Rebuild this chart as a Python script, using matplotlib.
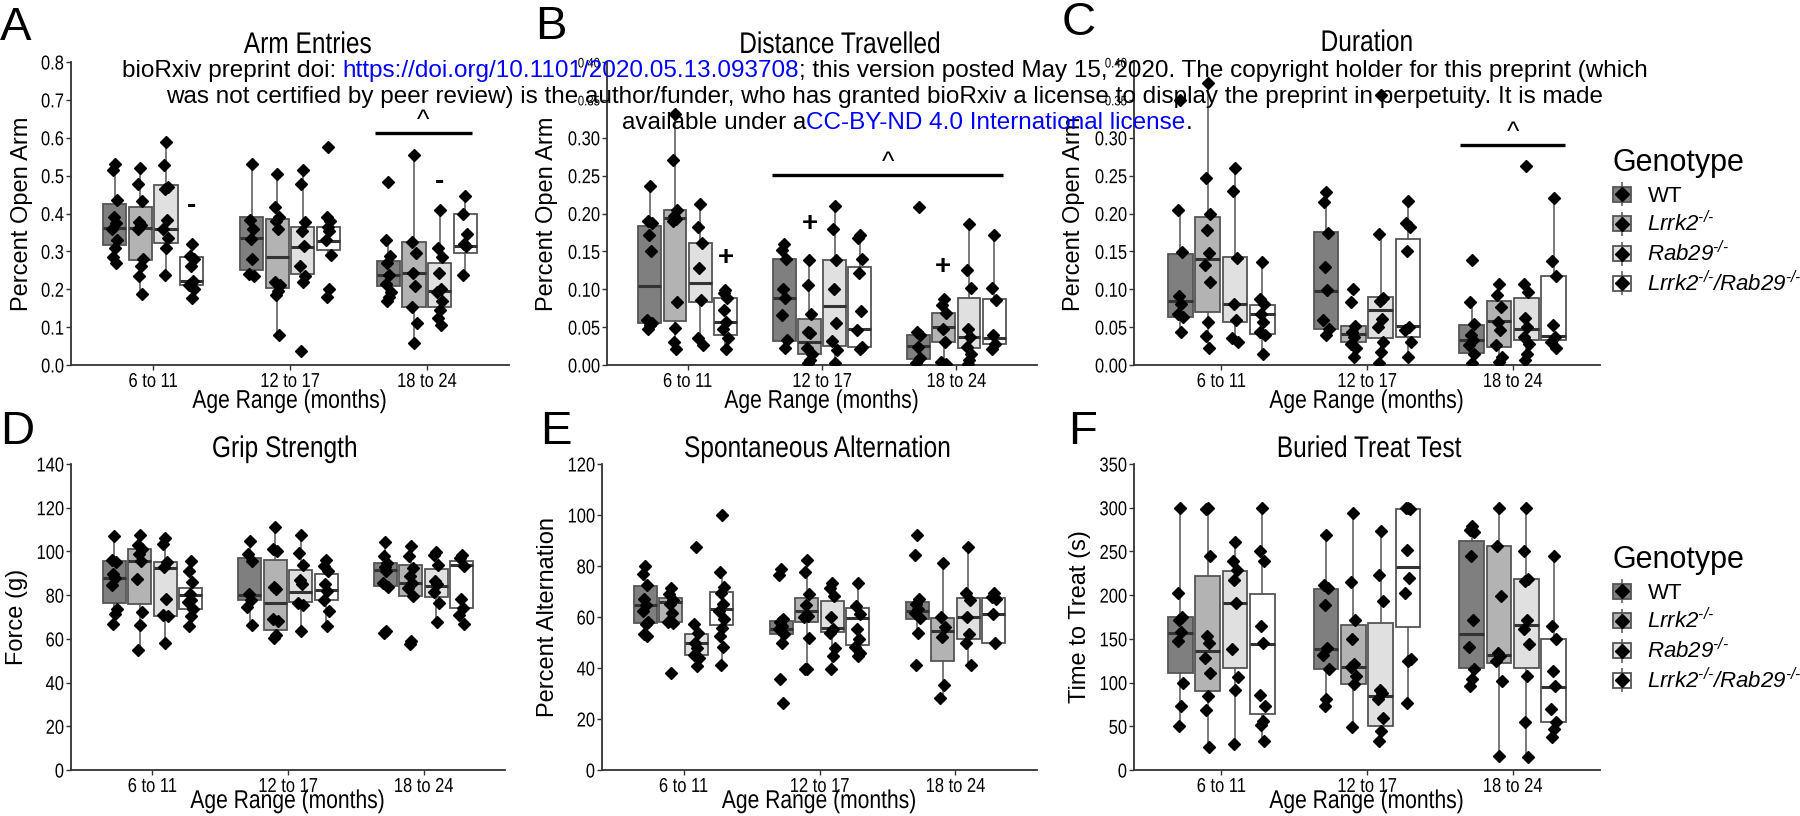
import numpy as np
import matplotlib
matplotlib.use("Agg")
import matplotlib.pyplot as plt
import matplotlib.patheffects as pe
from matplotlib.transforms import Affine2D
from matplotlib.patches import Patch
from matplotlib.lines import Line2D
from matplotlib.legend_handler import HandlerTuple

AGES = ["6 to 11", "12 to 17", "18 to 24"]
HY = "\u2010/\u2010"
GENOTYPES = ["WT", "$Lrrk2^{" + HY + "}$", "$Rab29^{" + HY + "}$",
             "$Lrrk2^{" + HY + "}/Rab29^{" + HY + "}$"]
FILLS = ["#7f7f7f", "#b3b3b3", "#e0e0e0", "#ffffff"]

# group order: for each age range -> WT, Lrrk2, Rab29, Lrrk2/Rab29
# ---- A: arm entries
arm_q1 = [0.316, 0.277, 0.322, 0.212, 0.251, 0.204, 0.239, 0.303, 0.208, 0.153, 0.153, 0.295]
arm_med = [0.363, 0.362, 0.360, 0.222, 0.336, 0.286, 0.312, 0.327, 0.237, 0.243, 0.195, 0.313]
arm_q3 = [0.426, 0.417, 0.474, 0.285, 0.390, 0.386, 0.365, 0.365, 0.275, 0.325, 0.270, 0.400]
arm_lo = [0.275, 0.188, 0.237, 0.177, 0.236, 0.080, 0.218, 0.290, 0.170, 0.059, 0.105, 0.237]
arm_hi = [0.532, 0.520, 0.592, 0.320, 0.530, 0.505, 0.515, 0.390, 0.336, 0.554, 0.408, 0.445]
arm_pts = [
    [0.532, 0.515, 0.435, 0.39, 0.375, 0.36, 0.33, 0.31, 0.285, 0.27],
    [0.52, 0.478, 0.432, 0.377, 0.37, 0.358, 0.28, 0.262, 0.236, 0.188],
    [0.59, 0.528, 0.47, 0.465, 0.384, 0.358, 0.336, 0.31, 0.237],
    [0.32, 0.287, 0.28, 0.262, 0.222, 0.211, 0.2, 0.177],
    [0.53, 0.382, 0.36, 0.332, 0.28, 0.24, 0.234],
    [0.505, 0.417, 0.39, 0.38, 0.358, 0.218, 0.211, 0.196, 0.186, 0.08],
    [0.515, 0.478, 0.377, 0.353, 0.314, 0.262, 0.236, 0.218, 0.038],
    [0.575, 0.39, 0.38, 0.365, 0.355, 0.33, 0.29, 0.2, 0.18],
    [0.484, 0.33, 0.288, 0.27, 0.237, 0.214, 0.192, 0.179, 0.17],
    [0.554, 0.325, 0.297, 0.243, 0.208, 0.153, 0.112, 0.059],
    [0.408, 0.31, 0.284, 0.243, 0.2, 0.192, 0.17, 0.144, 0.124, 0.105],
    [0.445, 0.40, 0.345, 0.32, 0.314, 0.237],
]

# ---- B: distance travelled
dist_q1 = [0.055, 0.058, 0.083, 0.040, 0.032, 0.015, 0.025, 0.024, 0.008, 0.031, 0.023, 0.028]
dist_med = [0.104, 0.194, 0.108, 0.057, 0.089, 0.031, 0.078, 0.047, 0.025, 0.050, 0.037, 0.035]
dist_q3 = [0.184, 0.204, 0.161, 0.089, 0.140, 0.061, 0.138, 0.130, 0.039, 0.068, 0.088, 0.087]
dist_lo = [0.047, 0.021, 0.027, 0.021, 0.022, 0.007, 0.001, 0.021, 0.001, 0.001, 0.001, 0.021]
dist_hi = [0.236, 0.331, 0.212, 0.099, 0.160, 0.139, 0.210, 0.171, 0.044, 0.087, 0.186, 0.171]
dist_pts = [
    [0.236, 0.19, 0.188, 0.171, 0.151, 0.06, 0.056, 0.053, 0.047],
    [0.331, 0.27, 0.204, 0.197, 0.193, 0.19, 0.083, 0.049, 0.031, 0.021],
    [0.212, 0.182, 0.161, 0.128, 0.086, 0.035, 0.027],
    [0.099, 0.095, 0.088, 0.072, 0.057, 0.047, 0.035, 0.021],
    [0.16, 0.152, 0.14, 0.1, 0.088, 0.066, 0.033, 0.022],
    [0.139, 0.105, 0.067, 0.044, 0.042, 0.022, 0.015, 0.007, 0.003],
    [0.21, 0.18, 0.138, 0.1, 0.055, 0.032, 0.02, 0.002],
    [0.171, 0.168, 0.14, 0.121, 0.071, 0.046, 0.024, 0.021],
    [0.209, 0.044, 0.04, 0.024, 0.009, 0.002],
    [0.087, 0.079, 0.068, 0.048, 0.031, 0.004, 0.001],
    [0.186, 0.126, 0.102, 0.048, 0.037, 0.024, 0.015, 0.007, 0.001],
    [0.171, 0.102, 0.086, 0.039, 0.028, 0.021],
]

# ---- C: duration
dur_q1 = [0.063, 0.070, 0.057, 0.041, 0.048, 0.030, 0.036, 0.037, 0.016, 0.024, 0.033, 0.033]
dur_med = [0.085, 0.140, 0.080, 0.067, 0.098, 0.041, 0.072, 0.052, 0.033, 0.058, 0.047, 0.038]
dur_q3 = [0.147, 0.196, 0.143, 0.079, 0.175, 0.051, 0.090, 0.166, 0.053, 0.085, 0.088, 0.118]
dur_lo = [0.043, 0.023, 0.031, 0.015, 0.040, 0.010, 0.001, 0.011, 0.002, 0.003, 0.007, 0.022]
dur_hi = [0.205, 0.372, 0.260, 0.136, 0.228, 0.052, 0.173, 0.217, 0.083, 0.107, 0.107, 0.220]
dur_pts = [
    [0.35, 0.205, 0.149, 0.091, 0.08, 0.067, 0.063, 0.043],
    [0.372, 0.247, 0.2, 0.178, 0.148, 0.132, 0.109, 0.057, 0.038, 0.023],
    [0.26, 0.23, 0.141, 0.08, 0.059, 0.035, 0.031],
    [0.136, 0.087, 0.08, 0.067, 0.057, 0.043, 0.039, 0.015],
    [0.228, 0.215, 0.174, 0.129, 0.099, 0.059, 0.047, 0.04],
    [0.1, 0.083, 0.052, 0.043, 0.037, 0.028, 0.022, 0.01],
    [0.357, 0.173, 0.088, 0.085, 0.061, 0.05, 0.031, 0.017, 0.002],
    [0.217, 0.187, 0.182, 0.15, 0.05, 0.046, 0.03, 0.011],
    [0.138, 0.083, 0.054, 0.039, 0.033, 0.026, 0.015, 0.002],
    [0.107, 0.093, 0.076, 0.057, 0.046, 0.026, 0.011, 0.004],
    [0.263, 0.107, 0.096, 0.062, 0.05, 0.037, 0.028, 0.015, 0.007],
    [0.22, 0.137, 0.117, 0.053, 0.037, 0.03, 0.022],
]

# ---- D: grip strength
grip_q1 = [76.2, 75.8, 70.5, 73.5, 78.0, 63.9, 77.0, 78.0, 84.2, 79.6, 79.3, 74.3]
grip_med = [87.7, 95.6, 92.5, 79.9, 80.0, 76.5, 81.4, 82.5, 91.3, 85.5, 84.2, 93.7]
grip_q3 = [95.6, 100.9, 95.0, 83.1, 97.1, 95.9, 91.5, 89.8, 94.5, 93.7, 91.8, 95.6]
grip_lo = [66.7, 55.0, 58.3, 65.9, 66.2, 60.6, 63.6, 65.7, 83.4, 79.6, 67.9, 66.7]
grip_hi = [107.3, 107.7, 106.2, 95.6, 105.0, 111.0, 107.4, 96.0, 104.5, 102.4, 99.4, 98.3]
grip_pts = [
    [107, 96, 95, 89.5, 88, 84.6, 73.8, 71.4, 66.7],
    [107.7, 103, 101, 99, 95.6, 87.2, 72.3, 66.2, 55],
    [106.2, 103.6, 95, 92.8, 78.4, 70.8, 70.5, 58.3],
    [95.6, 91, 86, 80.3, 78, 76.8, 73.5, 70.5, 66],
    [105, 99, 95.6, 80.3, 78, 74.6, 66.2],
    [111, 101, 100, 83.9, 82.6, 69, 68.2, 61.6, 60.6],
    [107.4, 99.4, 93.6, 86.7, 84.9, 76.5, 75.3, 63.6],
    [96, 93.3, 91, 85, 81.9, 78, 72.7, 65.7],
    [104.5, 97.9, 94.5, 93, 91, 85.7, 83.9, 63.5, 62.5],
    [102.4, 97.9, 92.5, 88.7, 85.5, 83.4, 79.6, 59, 57.5],
    [99.7, 98.2, 94, 86.4, 84.9, 81.4, 76.5, 67.9],
    [98.3, 97.1, 93.3, 78.4, 74.3, 70.8, 66.7],
]

# ---- E: spontaneous alternation
alt_q1 = [57.5, 58.2, 45.1, 56.7, 53.5, 58.0, 54.1, 49.0, 59.1, 42.8, 51.3, 50.0]
alt_med = [64.7, 66.0, 50.0, 63.0, 55.2, 62.2, 55.8, 59.5, 62.2, 54.5, 60.0, 61.0]
alt_q3 = [72.1, 67.3, 53.5, 69.9, 58.6, 67.6, 66.3, 63.4, 66.0, 59.7, 67.6, 67.6]
alt_lo = [52.6, 57.5, 44.1, 41.0, 49.8, 39.8, 39.8, 44.7, 53.6, 28.4, 41.1, 50.0]
alt_hi = [80.0, 71.5, 57.4, 77.7, 59.3, 82.3, 73.2, 73.4, 66.9, 81.3, 87.5, 69.5]
alt_pts = [
    [80, 77, 72.5, 67, 64.7, 62.3, 58.2, 57.1, 53.5, 52.6],
    [71.5, 68.9, 66.6, 65, 61.4, 58.2, 57.5, 38],
    [87.5, 57.4, 53.6, 50, 48, 45.1, 44.1, 40.6],
    [100, 77.7, 71.9, 69.3, 65.2, 62.3, 59.4, 55.8, 52.6, 48.4, 41],
    [78.9, 76.6, 59.3, 58, 56.5, 55.2, 53.5, 49.8, 35.6, 26.2],
    [82.3, 77.7, 69.1, 64.6, 60.4, 60, 51.9, 39.8, 39.5],
    [73.2, 71.5, 68.2, 60, 55.2, 53.9, 48, 44.7, 39.8],
    [73.4, 64.3, 61, 55.2, 51.3, 48.4, 46, 44.7],
    [92, 84.5, 66.9, 65, 63, 61.4, 59.5, 53.6, 41],
    [81.3, 60.1, 56.2, 52.2, 33.3, 28.4],
    [87.5, 69.3, 66.6, 60.1, 53.5, 49.7, 41.1],
    [69.5, 68, 66.9, 61, 50],
]

# ---- F: buried treat test
treat_q1 = [111.4, 90.5, 117.0, 63.9, 115.2, 98.9, 50.0, 164.0, 117.0, 122.9, 116.4, 54.4]
treat_med = [157.0, 136.2, 191.0, 144.5, 138.8, 118.0, 84.8, 232.0, 156.0, 131.6, 165.8, 95.5]
treat_q3 = [175.4, 221.8, 228.0, 201.6, 206.5, 165.5, 167.7, 299.0, 262.5, 256.0, 218.0, 149.5]
treat_lo = [50.0, 26.6, 29.7, 33.5, 73.4, 48.7, 31.6, 77.2, 96.2, 16.4, 14.5, 37.3]
treat_hi = [300.0, 300.0, 261.0, 300.0, 269.0, 294.0, 273.0, 300.0, 279.0, 300.0, 300.0, 244.6]
treat_pts = [
    [300, 202.7, 175, 172, 158, 147.6, 100, 73.4, 50],
    [300, 299, 245, 153, 145.7, 128.6, 110.7, 84.8, 68.8, 26.6],
    [261, 239, 229, 217, 191, 138, 106, 91, 29.7],
    [300, 251, 239, 164.7, 145.7, 85.6, 73.4, 56.3, 51.3, 33.5],
    [269, 212, 208, 189, 139, 132, 115, 81, 73.4],
    [294, 215, 171.5, 149.5, 121, 118, 107.6, 98, 48.7],
    [273, 223.6, 193, 91.7, 88, 81, 60, 44.9, 33.5],
    [300, 300, 299, 252, 219.9, 202.7, 126.7, 125, 77.2],
    [279, 275, 272, 244.6, 171.5, 140.7, 116, 103.8, 96.2],
    [300, 256, 199, 134, 130.5, 124.8, 102, 16.4],
    [300, 250, 218, 216, 172, 161, 143.8, 107.6, 54.4, 14.5],
    [244.6, 164.7, 149.5, 113.4, 96.2, 69.6, 54.4, 46.8, 37.3],
]

# ---------------------------------------------------------------- style
plt.rcParams["font.family"] = ["Liberation Sans", "DejaVu Sans"]
plt.rcParams["mathtext.fontset"] = "custom"
plt.rcParams["mathtext.rm"] = "Liberation Sans:italic"
plt.rcParams["mathtext.it"] = "Liberation Sans:italic"
plt.rcParams["mathtext.default"] = "rm"


class Narrow(pe.AbstractPathEffect):
    """squeeze glyphs horizontally (the original uses a narrow Arial)"""

    def __init__(self, sx=0.82, anchor="center"):
        super().__init__()
        self.sx = sx
        self.anchor = anchor

    def draw_path(self, renderer, gc, tpath, affine, rgbFace=None):
        ext = tpath.get_extents(affine)
        if self.anchor == "right":
            x0 = ext.x1
        elif self.anchor == "left":
            x0 = ext.x0
        else:
            x0 = 0.5 * (ext.x0 + ext.x1)
        aff = affine + Affine2D().translate(-x0, 0).scale(self.sx, 1).translate(x0, 0)
        renderer.draw_path(gc, tpath, aff, rgbFace)


W, H = 1800, 816
fig = plt.figure(figsize=(W / 100, H / 100), dpi=100)
fig.patch.set_facecolor("white")

SLOT = 0.1875
BOXW = 0.17
JIT = [0.0, -0.014, 0.014, -0.007, 0.007, -0.018, 0.018, 0.003, -0.01, 0.01, -0.003]
EDGE = "#555555"
TICK = 14.5


def add_axes_px(l, t, r, b):
    return fig.add_axes([l / W, 1 - b / H, (r - l) / W, (b - t) / H])


def draw_panel(ax, q1, med, q3, lo, hi, pts, ymax, ystep, fmt, ylabel, small_top=0, xpad=-1.5):
    stats, positions = [], []
    for i in range(12):
        a, g = divmod(i, 4)
        positions.append(a + 1 + (g - 1.5) * SLOT)
        stats.append(dict(q1=q1[i], med=med[i], q3=q3[i],
                          whislo=lo[i], whishi=hi[i], fliers=[]))
    bp = ax.bxp(stats, positions=positions, widths=BOXW, patch_artist=True,
                showcaps=False, showfliers=False,
                boxprops=dict(edgecolor=EDGE, linewidth=1.3),
                medianprops=dict(color="#333333", linewidth=2.2),
                whiskerprops=dict(color=EDGE, linewidth=1.1))
    for i, patch in enumerate(bp["boxes"]):
        patch.set_facecolor(FILLS[i % 4])
    for i, p in enumerate(pts):
        xs = [positions[i] + JIT[k % len(JIT)] for k in range(len(p))]
        ax.plot(xs, p, ls="", marker="D", color="black", ms=6.6, zorder=4)

    ax.set_xlim(0.4, 3.6)
    ax.set_ylim(0, ymax)
    ax.set_xticks([1, 2, 3])
    ax.set_xticklabels(AGES, fontsize=TICK)
    ticks = np.arange(0, ymax + ystep / 2, ystep)
    ax.set_yticks(ticks)
    ax.set_yticklabels([fmt.format(t) for t in ticks], fontsize=TICK)
    for lab in ax.get_xticklabels():
        lab.set_path_effects([Narrow(anchor="center")])
    ylabs = ax.get_yticklabels()
    for lab in ylabs:
        lab.set_path_effects([Narrow(anchor="right")])
    for lab in ylabs[len(ylabs) - small_top:]:
        lab.set_fontsize(10)
    for s in ["top", "right"]:
        ax.spines[s].set_visible(False)
    for s in ["left", "bottom"]:
        ax.spines[s].set_color("#333333")
        ax.spines[s].set_linewidth(1.3)
    ax.tick_params(length=3.5, width=1, color="#333333", pad=1.5)
    xl = ax.set_xlabel("Age Range (months)", fontsize=18.5, labelpad=xpad)
    xl.set_path_effects([Narrow()])
    ax.set_ylabel(ylabel, fontsize=17, labelpad=2)


axA = add_axes_px(71, 62, 509, 365)
axB = add_axes_px(607, 62, 1037, 365)
axC = add_axes_px(1134, 62, 1600, 365)
axD = add_axes_px(71, 464, 505, 770)
axE = add_axes_px(602, 464, 1037, 770)
axF = add_axes_px(1134, 464, 1600, 770)

draw_panel(axA, arm_q1, arm_med, arm_q3, arm_lo, arm_hi, arm_pts, 0.8, 0.1, "{:.1f}", "Percent Open Arm")
draw_panel(axB, dist_q1, dist_med, dist_q3, dist_lo, dist_hi, dist_pts, 0.4, 0.05, "{:.2f}", "Percent Open Arm", 2)
draw_panel(axC, dur_q1, dur_med, dur_q3, dur_lo, dur_hi, dur_pts, 0.4, 0.05, "{:.2f}", "Percent Open Arm", 2)
draw_panel(axD, grip_q1, grip_med, grip_q3, grip_lo, grip_hi, grip_pts, 140, 20, "{:.0f}", "Force (g)", 0, -5)
draw_panel(axE, alt_q1, alt_med, alt_q3, alt_lo, alt_hi, alt_pts, 120, 20, "{:.0f}", "Percent Alternation", 0, -5)
draw_panel(axF, treat_q1, treat_med, treat_q3, treat_lo, treat_hi, treat_pts, 350, 50, "{:.0f}", "Time to Treat (s)", 0, -5)


# significance marks
def bar(ax, x0, x1, y):
    ax.plot([x0, x1], [y, y], color="black", lw=2.4, clip_on=False, solid_capstyle="butt")
    ax.annotate("^", xy=((x0 + x1) / 2, y), xytext=(0, 3.5), textcoords="offset points",
                ha="center", va="baseline", fontsize=19)


def mark(ax, x, y, s):
    ax.text(x, y, s, ha="center", va="center", fontsize=20, fontweight="bold")


bar(axA, 2.62, 3.33, 0.612)
mark(axA, 1.28, 0.42, "-")
mark(axA, 3.094, 0.484, "-")

bar(axB, 1.63, 3.35, 0.251)
mark(axB, 1.285, 0.141, "+")
mark(axB, 1.91, 0.186, "+")
mark(axB, 2.90, 0.129, "+")

bar(axC, 2.64, 3.36, 0.291)

# titles and panel letters
for x, y, s in [(308, 53, "Arm Entries"), (840, 53, "Distance Travelled"), (1367, 51, "Duration"),
                (285, 457, "Grip Strength"), (818, 457, "Spontaneous Alternation"),
                (1369, 457, "Buried Treat Test")]:
    t = fig.text(x / W, 1 - y / H, s, ha="center", va="baseline", fontsize=21.5)
    t.set_path_effects([Narrow()])

for x, y, s in [(0, 6, "A"), (535, 5, "B"), (1062, 1, "C"),
                (0, 410, "D"), (540, 410, "E"), (1068, 410, "F")]:
    fig.text(x / W, 1 - y / H, s, ha="left", va="top", fontsize=34)

# legends
handles = []
for c in FILLS:
    handles.append((Patch(facecolor=c, edgecolor=EDGE, linewidth=1.3),
                    Line2D([], [], ls="", marker="|", color=EDGE, ms=17, mew=1.1),
                    Line2D([], [], ls="", marker="D", color="black", ms=7)))
for title_y, top in ((163, 186), (560, 583)):
    fig.text(1612 / W, 1 - title_y / H, "Genotype", ha="left", va="center", fontsize=22)
    fig.legend(handles, GENOTYPES, loc="upper left",
               bbox_to_anchor=(1613 / W, 1 - top / H), frameon=False, fontsize=16,
               handlelength=0.8, handleheight=0.65, handletextpad=0.75,
               labelspacing=0.2, borderpad=0, borderaxespad=0,
               handler_map={tuple: HandlerTuple(ndivide=1, pad=0)})

# bioRxiv overlay text
renderer = fig.canvas.get_renderer()
WM = 17.5
BLUE = "#0000ff"


def text_w(s):
    t = fig.text(0, 0, s + "|", fontsize=WM)
    w = t.get_window_extent(renderer).width
    t.remove()
    t = fig.text(0, 0, "|", fontsize=WM)
    w -= t.get_window_extent(renderer).width
    t.remove()
    return w


lines = [
    [("bioRxiv preprint doi: ", "black"),
     ("https://doi.org/10.1101/2020.05.13.093708", BLUE),
     ("; this version posted May 15, 2020. The copyright holder for this preprint (which", "black")],
    [("was not certified by peer review) is the author/funder, who has granted bioRxiv a license "
      "to display the preprint in perpetuity. It is made", "black")],
    [("available under a", "black"), ("CC-BY-ND 4.0 International license", BLUE), (".", "black")],
]
CENTERS = [885, 885, 907]
for k, pieces in enumerate(lines):
    full = "".join(p for p, _ in pieces)
    left = CENTERS[k] - text_w(full) / 2
    prefix = ""
    for s, c in pieces:
        x = left + (text_w(prefix) if prefix else 0)
        fig.text(x / W, 1 - (77 + 26 * k) / H, s, color=c, fontsize=WM,
                 ha="left", va="baseline", zorder=20)
        prefix += s

fig.savefig("out.png", dpi=100, facecolor="white")
